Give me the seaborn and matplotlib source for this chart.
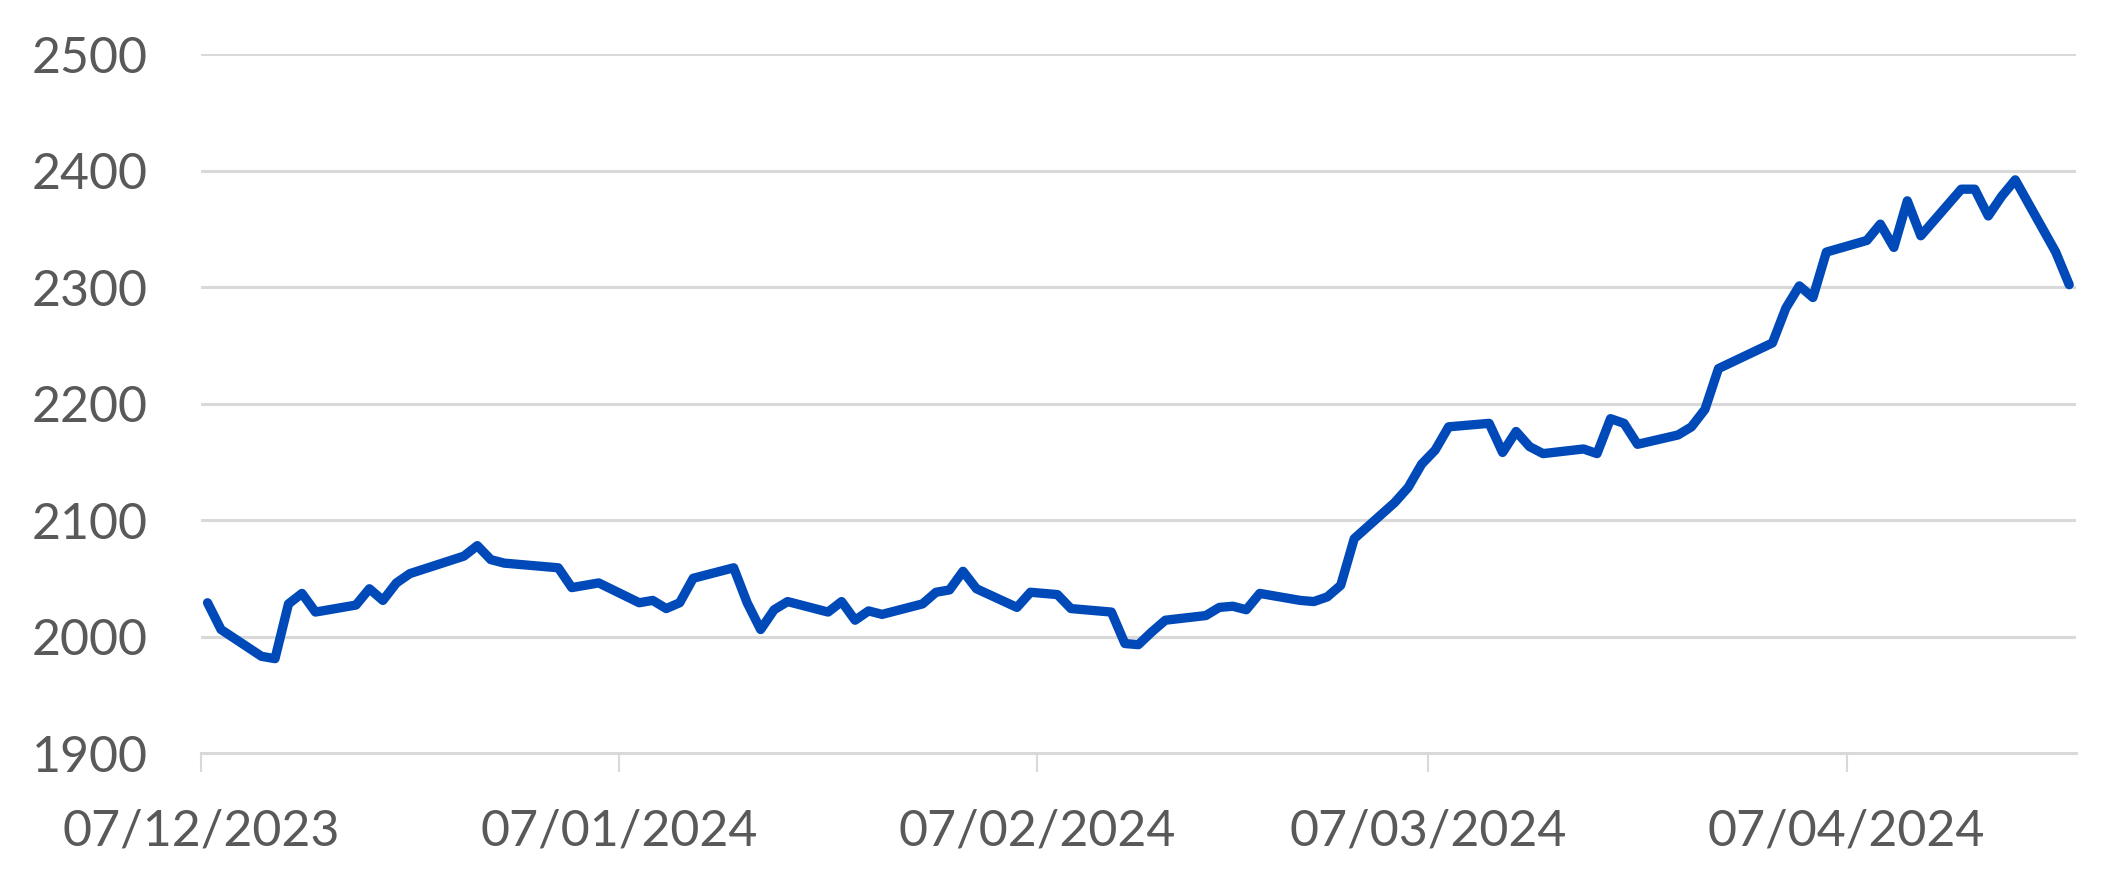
import matplotlib
matplotlib.use("Agg")
import matplotlib.pyplot as plt
import matplotlib.dates as mdates
import seaborn as sns
import pandas as pd
import numpy as np

# ---- data ----
dates = [
    "2023-12-07", "2023-12-08", "2023-12-11", "2023-12-12", "2023-12-13", "2023-12-14", "2023-12-15",
    "2023-12-18", "2023-12-19", "2023-12-20", "2023-12-21", "2023-12-22",
    "2023-12-26", "2023-12-27", "2023-12-28", "2023-12-29",
    "2024-01-02", "2024-01-03", "2024-01-04", "2024-01-05",
    "2024-01-08", "2024-01-09", "2024-01-10", "2024-01-11", "2024-01-12",
    "2024-01-15", "2024-01-16", "2024-01-17", "2024-01-18", "2024-01-19",
    "2024-01-22", "2024-01-23", "2024-01-24", "2024-01-25", "2024-01-26",
    "2024-01-29", "2024-01-30", "2024-01-31", "2024-02-01", "2024-02-02",
    "2024-02-05", "2024-02-06", "2024-02-07", "2024-02-08", "2024-02-09",
    "2024-02-12", "2024-02-13", "2024-02-14", "2024-02-15", "2024-02-16",
    "2024-02-19", "2024-02-20", "2024-02-21", "2024-02-22", "2024-02-23",
    "2024-02-26", "2024-02-27", "2024-02-28", "2024-02-29", "2024-03-01",
    "2024-03-04", "2024-03-05", "2024-03-06", "2024-03-07", "2024-03-08",
    "2024-03-11", "2024-03-12", "2024-03-13", "2024-03-14", "2024-03-15",
    "2024-03-18", "2024-03-19", "2024-03-20", "2024-03-21", "2024-03-22",
    "2024-03-25", "2024-03-26", "2024-03-27", "2024-03-28",
    "2024-04-01", "2024-04-02", "2024-04-03", "2024-04-04", "2024-04-05",
    "2024-04-08", "2024-04-09", "2024-04-10", "2024-04-11", "2024-04-12",
    "2024-04-15", "2024-04-16", "2024-04-17", "2024-04-18", "2024-04-19",
    "2024-04-22", "2024-04-23",
]
prices = [
    2029, 2006, 1983, 1981, 2028, 2037, 2021,
    2027, 2041, 2031, 2046, 2054,
    2069, 2078, 2066, 2063,
    2059, 2042, 2044, 2046,
    2029, 2031, 2024, 2029, 2050,
    2059, 2029, 2006, 2023, 2030,
    2021, 2030, 2014, 2022, 2019,
    2028, 2038, 2040, 2056, 2041,
    2025, 2038, 2037, 2036, 2024,
    2021, 1994, 1993, 2004, 2014,
    2018, 2025, 2026, 2023, 2037,
    2031, 2030, 2034, 2044, 2084,
    2115, 2128, 2148, 2160, 2180,
    2183, 2158, 2176, 2163, 2157,
    2161, 2157, 2187, 2183, 2165,
    2173, 2180, 2195, 2230,
    2252, 2282, 2301, 2291, 2330,
    2340, 2354, 2334, 2374, 2344,
    2384, 2384, 2361, 2378, 2392,
    2330, 2302,
]
tick_dates = ["2023-12-07", "2024-01-07", "2024-02-07", "2024-03-07", "2024-04-07"]
y_ticks = [1900, 2000, 2100, 2200, 2300, 2400, 2500]

# ---- figure ----
sns.set_theme(style="white")
plt.rcParams["font.family"] = ["Lato", "DejaVu Sans"]

df = pd.DataFrame({"date": pd.to_datetime(dates) + pd.Timedelta(hours=12), "price": prices})

fig = plt.figure(figsize=(21.27, 8.83), dpi=100)
ax = fig.add_axes([0.0944, 0.1472, 0.976 - 0.0944, 0.9388 - 0.1472])

grid_c = "#D9D9D9"
for v in y_ticks[1:]:
    ax.axhline(v, color=grid_c, lw=2.2, zorder=1)

sns.lineplot(data=df, x="date", y="price", ax=ax, color="#0049B8", lw=6.7,
             solid_joinstyle="round", solid_capstyle="round", zorder=3)

ax.set_xlim(pd.Timestamp("2023-12-07"), pd.Timestamp("2024-04-24"))
ax.set_ylim(1900, 2500)
ax.set_yticks(y_ticks)
ax.set_xticks(pd.to_datetime(tick_dates))
ax.xaxis.set_major_formatter(mdates.DateFormatter("%d/%m/%Y"))

for s in ["top", "right", "left"]:
    ax.spines[s].set_visible(False)
ax.spines["bottom"].set_color(grid_c)
ax.spines["bottom"].set_linewidth(2.2)

ax.tick_params(axis="y", length=0, pad=38, labelsize=36, labelcolor="#595959")
ax.tick_params(axis="x", length=14, width=1.5, color=grid_c, pad=26,
               labelsize=36, labelcolor="#595959", direction="out", bottom=True)
ax.set_xlabel("")
ax.set_ylabel("")

fig.savefig("out.png", dpi=100)
